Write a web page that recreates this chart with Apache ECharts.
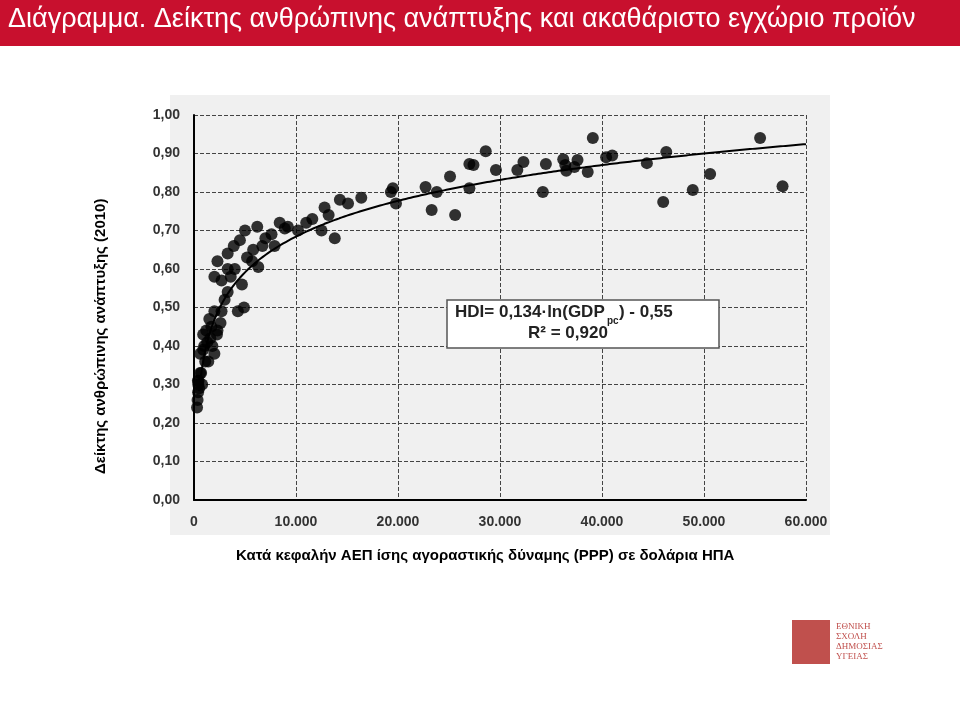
<!DOCTYPE html>
<html><head><meta charset="utf-8">
<script src="https://cdn.jsdelivr.net/npm/echarts@6/dist/echarts.min.js"></script>
<style>body{margin:0;background:#fff}#c{width:960px;height:716px}</style></head>
<body><div id="c"></div>
<script>
const titleText = 'Διάγραμμα. Δείκτης ανθρώπινης ανάπτυξης και ακαθάριστο εγχώριο προϊόν';
const yAxisTitle = 'Δείκτης ανθρώπινης ανάπτυξης (2010)';
const xAxisTitle = 'Κατά κεφαλήν ΑΕΠ ίσης αγοραστικής δύναμης (PPP) σε δολάρια ΗΠΑ';
const gdp = [300,350,400,420,450,500,380,600,700,800,900,1000,1100,1200,1500,1600,1800,2000,2000,2250,2300,2700,3300,4300,4900,3300,4700,2000,2700,2300,4000,3300,6300,5700,4500,5000,6200,6700,7900,7600,8400,8900,10200,11600,12500,13800,12800,14300,15100,16400,19500,19800,19300,22700,23300,23800,25100,25600,27000,27000,27400,28600,29600,31700,32300,34200,34500,36400,36500,36200,37300,37600,38600,39100,40400,41000,44400,46000,46300,48900,50600,55500,57700,
  600,900,1300,1700,1400,2600,3000,3600,3900,5200,5800,7000,9200,11000,13200];
const hdi = [0.24,0.26,0.28,0.30,0.31,0.29,0.31,0.38,0.33,0.30,0.43,0.40,0.36,0.44,0.47,0.42,0.40,0.38,0.49,0.43,0.44,0.49,0.54,0.49,0.50,0.64,0.56,0.58,0.57,0.62,0.60,0.60,0.605,0.62,0.675,0.70,0.71,0.66,0.66,0.69,0.72,0.705,0.70,0.73,0.70,0.68,0.76,0.78,0.77,0.785,0.81,0.77,0.80,0.813,0.753,0.80,0.84,0.74,0.81,0.873,0.87,0.906,0.857,0.857,0.878,0.80,0.873,0.87,0.855,0.885,0.865,0.883,0.852,0.94,0.89,0.895,0.875,0.774,0.904,0.805,0.847,0.94,0.815,
  0.33,0.39,0.41,0.45,0.36,0.46,0.52,0.58,0.66,0.63,0.65,0.68,0.71,0.72,0.74];
const xTicks = ['0','10.000','20.000','30.000','40.000','50.000','60.000'];
const yTicks = ['0,00','0,10','0,20','0,30','0,40','0,50','0,60','0,70','0,80','0,90','1,00'];
// trendline from the chart's stated fit: HDI = 0.134 ln(GDP) - 0.55
const trendX = [];
for (let x = 500; x <= 60000; x += 250) trendX.push(x);
const trend = trendX.map(x => [x, 0.134*Math.log(x) - 0.55]);
const pts = gdp.map((g,i)=>[g,hdi[i]]);

const chart = echarts.init(document.getElementById('c'));
chart.setOption({
  backgroundColor:'#fff',
  graphic:[
    {type:'rect',shape:{x:0,y:0,width:960,height:46},style:{fill:'#c8102e'}},
    {type:'text',left:8,top:6,style:{text:titleText,fill:'#fff',font:'27px "Liberation Sans", Arial'}},
    {type:'rect',shape:{x:170,y:95,width:660,height:440},style:{fill:'#f0f0f0'},z:-1},
    {type:'text',left:236,top:548,style:{text:xAxisTitle,fill:'#000',font:'bold 15px "Liberation Sans", Arial'}},
    {type:'text',x:101,y:474,rotation:Math.PI/2,style:{text:yAxisTitle,fill:'#000',font:'bold 15px "Liberation Sans", Arial',align:'left',verticalAlign:'middle'}},
    {type:'rect',shape:{x:447,y:300,width:272,height:48},style:{fill:'#fff',stroke:'#555',lineWidth:1.5},z:10},
    {type:'text',x:455,y:304,z:11,style:{text:'HDI= 0,134·ln(GDP   ) - 0,55',fill:'#222',font:'bold 17px "Liberation Sans", Arial'}},
    {type:'text',x:607,y:316,z:11,style:{text:'pc',fill:'#222',font:'bold 10px "Liberation Sans", Arial'}},
    {type:'text',x:528,y:325,z:11,style:{text:'R² = 0,920',fill:'#222',font:'bold 17px "Liberation Sans", Arial'}},
    {type:'rect',shape:{x:792,y:620,width:38,height:44},style:{fill:'#c0504d'}},
    {type:'text',x:836,y:622,style:{text:'ΕΘΝΙΚΗ\nΣΧΟΛΗ\nΔΗΜΟΣΙΑΣ\nΥΓΕΙΑΣ',fill:'#c0504d',font:'9px "Liberation Serif"',lineHeight:10}}
  ],
  grid:{left:194,right:154,top:115,bottom:216},
  xAxis:{type:'value',min:0,max:60000,interval:10000,
    axisLine:{show:true,lineStyle:{color:'#000',width:2}},axisTick:{show:false},
    axisLabel:{formatter:(v)=>xTicks[Math.round(v/10000)],color:'#333',fontWeight:'bold',fontSize:14,fontFamily:'Liberation Sans',margin:15},
    splitLine:{show:true,lineStyle:{type:'dashed',color:'#444',width:1}}},
  yAxis:{type:'value',min:0,max:1,interval:0.1,
    axisLine:{show:true,lineStyle:{color:'#000',width:2}},axisTick:{show:false},
    axisLabel:{formatter:(v)=>yTicks[Math.round(v*10)],color:'#333',fontWeight:'bold',fontSize:14,fontFamily:'Liberation Sans',margin:14},
    splitLine:{show:true,lineStyle:{type:'dashed',color:'#444',width:1}}},
  series:[
    {type:'scatter',data:pts,symbolSize:12,itemStyle:{color:'#000'},silent:true},
    {type:'line',data:trend,showSymbol:false,lineStyle:{color:'#000',width:2},silent:true}
  ]
});
</script></body></html>
